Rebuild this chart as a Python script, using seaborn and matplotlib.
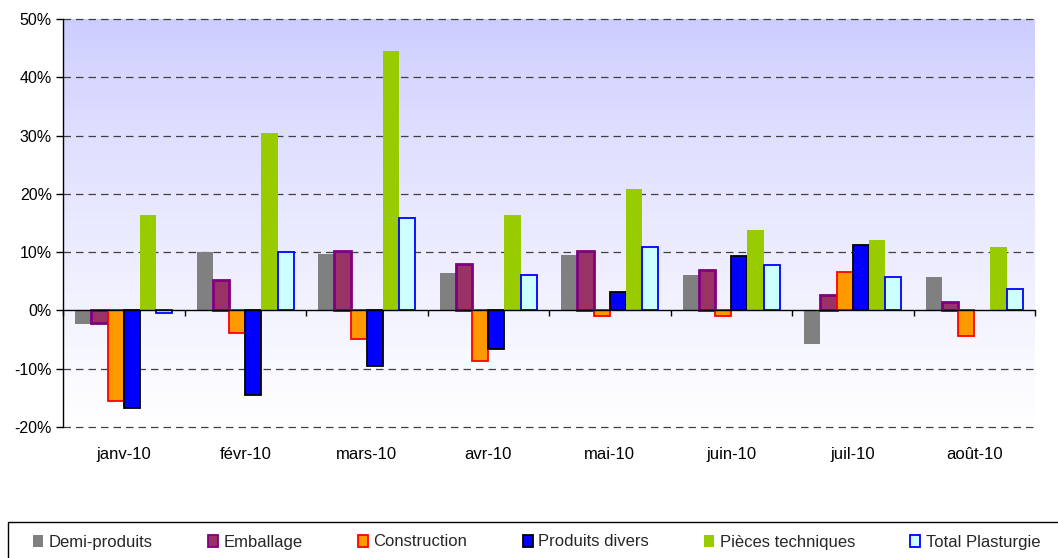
import numpy as np
import pandas as pd
import matplotlib
matplotlib.use("Agg")
import matplotlib.pyplot as plt
import seaborn as sns
from matplotlib.ticker import FixedLocator, FuncFormatter

months = ["janv-10", "févr-10", "mars-10", "avr-10", "mai-10", "juin-10", "juil-10", "août-10"]
series = ["Demi-produits", "Emballage", "Construction", "Produits divers", "Pièces techniques", "Total Plasturgie"]

demi_produits = [-2.3, 10.0, 9.6, 6.5, 9.5, 6.0, -5.7, 5.7]
emballage = [-2.2, 5.2, 10.2, 8.0, 10.2, 7.0, 2.6, 1.5]
construction = [-15.6, -3.8, -4.9, -8.6, -0.9, -0.9, 6.6, -4.4]
produits_divers = [-16.8, -14.5, -9.5, -6.7, 3.2, 9.4, 11.2, np.nan]
pieces_techniques = [16.4, 30.4, 44.5, 16.4, 20.9, 13.8, 12.1, 10.9]
total_plasturgie = [-0.4, 10.0, 15.8, 6.0, 10.9, 7.8, 5.7, 3.7]

values = [demi_produits, emballage, construction, produits_divers, pieces_techniques, total_plasturgie]
rows = []
for s, vals in zip(series, values):
    for m, v in zip(months, vals):
        rows.append({"mois": m, "serie": s, "valeur": v})
df = pd.DataFrame(rows).dropna()

fills = ["#808080", "#993366", "#FF9900", "#0000FF", "#99CC00", "#CCFFFF"]
edges = ["none", "#800080", "#FF0000", "#000000", "none", "#0000FF"]
lws = [0, 2.0, 1.3, 1.3, 0, 1.3]

sns.set_theme(style="white")
plt.rcParams["font.family"] = ["Liberation Sans", "DejaVu Sans"]

fig = plt.figure(figsize=(10.58, 5.58), dpi=100)
ax = fig.add_axes([63 / 1058, 1 - 427 / 558, (1035 - 63) / 1058, (427 - 19) / 558])

# gradient background
t = np.linspace(0, 1, 256)[:, None]
top = np.array([0xCC, 0xCC, 0xFF]) / 255.0
bot = np.array([1.0, 1.0, 1.0])
tt = t ** 0.8
grad = top[None, None, :] * (1 - tt[..., None]) + bot[None, None, :] * tt[..., None]
grad = np.repeat(grad, 2, axis=1)
ax.imshow(grad, extent=[0, 1, 0, 1], transform=ax.transAxes, aspect="auto", zorder=0)

sns.barplot(data=df, x="mois", y="valeur", hue="serie", order=months, hue_order=series,
            palette=fills, width=0.8, ax=ax, errorbar=None, saturation=1, legend=False, zorder=3)

for i, cont in enumerate(ax.containers):
    for p in cont.patches:
        p.set_edgecolor(edges[i])
        p.set_linewidth(lws[i])
        p.set_zorder(3)

ax.set_xlim(-0.5, 7.5)
ax.set_ylim(-20, 50)
ax.set_xlabel("")
ax.set_ylabel("")

ax.yaxis.set_major_locator(FixedLocator([-20, -10, 0, 10, 20, 30, 40, 50]))
ax.yaxis.set_major_formatter(FuncFormatter(lambda v, p: f"{int(round(v))}%"))
for yv in [-20, -10, 10, 20, 30, 40, 50]:
    ax.axhline(yv, color="#404040", lw=0.9, linestyle=(0, (6, 4)), zorder=1, clip_on=False)

for s in ["top", "right"]:
    ax.spines[s].set_visible(False)
ax.spines["left"].set_color("black")
ax.spines["left"].set_linewidth(1.0)
ax.spines["bottom"].set_position(("data", 0))
ax.spines["bottom"].set_color("black")
ax.spines["bottom"].set_linewidth(1.0)
ax.spines["bottom"].set_zorder(4)

ax.set_xticks(range(len(months)))
ax.set_xticklabels(months)
ax.set_xticks(np.arange(-0.5, 8, 1), minor=True)
ax.tick_params(axis="x", which="major", length=0, pad=98, labelsize=12, colors="black")
ax.tick_params(axis="x", which="minor", length=4, width=1, direction="out", color="black", bottom=True)
ax.tick_params(axis="y", which="major", length=5, width=1, direction="out", left=True,
               labelsize=11.5, colors="black", pad=3)
ax.grid(False)

# legend frame (extends past the right/bottom edge as in the reference)
frame = plt.Rectangle((8 / 1058, -0.1), 1.1, 1 - 522 / 558 + 0.1, transform=fig.transFigure,
                      facecolor="white", edgecolor="black", linewidth=1.0, zorder=0)
fig.patches.append(frame)

handles = []
for i in range(6):
    handles.append(plt.Rectangle((0, 0), 1, 1, facecolor=fills[i], edgecolor=edges[i],
                                 linewidth=min(lws[i], 1.3)))
leg = fig.legend(handles, series, loc="center left", bbox_to_anchor=(33 / 1058, 1 - 542 / 558),
                 ncol=6, frameon=False, fontsize=12,
                 handlelength=0.6, handleheight=0.7, handletextpad=0.35, columnspacing=3.3,
                 borderpad=0, borderaxespad=0)

fig.savefig("out.png", dpi=100)
